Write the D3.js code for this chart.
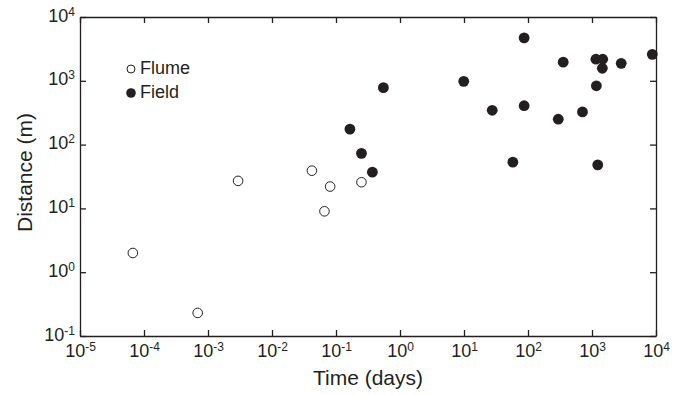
<!DOCTYPE html>
<html>
<head>
<meta charset="utf-8">
<script src="https://cdn.jsdelivr.net/npm/d3@7"></script>
<style>
  body { margin: 0; background: #fff; }
  svg { display: block; font-family: "Liberation Sans", Arial, Helvetica, sans-serif; }
  .axis path, .axis line { stroke: #231f20; stroke-width: 1.3; }
  .axis text { fill: #231f20; }
</style>
</head>
<body>
<script>
// tick exponents (labels are 10^n)
var xTickExp = [-5, -4, -3, -2, -1, 0, 1, 2, 3, 4];
var yTickExp = [-1, 0, 1, 2, 3, 4];

// Flume (open circles)
var flumeTime = [6.7e-5, 6.9e-4, 2.95e-3, 0.042, 0.066, 0.081, 0.25];
var flumeDist = [2.0, 0.23, 27, 39, 9.0, 22, 25.7];

// Field (filled circles)
var fieldTime = [0.165, 0.25, 0.37, 0.55, 9.9, 27.6, 58, 87, 87, 297, 355, 710, 1150, 1170, 1230, 1450, 1470, 2860, 8750];
var fieldDist = [175, 73, 37, 780, 980, 345, 53, 4700, 407, 250, 1960, 325, 2180, 835, 48, 1570, 2180, 1880, 2600];

var seriesNames = ["Flume", "Field"];

var W = 684, H = 395;
var margin = {top: 17, right: 28, bottom: 59, left: 80},
    width = W - margin.left - margin.right,   // 576
    height = H - margin.top - margin.bottom;  // 319

var ink = "#231f20";

var svg = d3.select("body").append("svg")
    .attr("width", W)
    .attr("height", H)
  .append("g")
    .attr("transform", "translate(" + margin.left + "," + margin.top + ")");

var x = d3.scaleLog().domain([1e-5, 1e4]).range([0, width]);
var y = d3.scaleLog().domain([1e-1, 1e4]).range([height, 0]);

var xTicks = xTickExp.map(function(e) { return Math.pow(10, e); });
var yTicks = yTickExp.map(function(e) { return Math.pow(10, e); });

// write 10^n as "10" + raised exponent
function powLabel(sel, ticks, exps) {
  sel.each(function(d) {
    var i = ticks.indexOf(d);
    var t = d3.select(this).text(null);
    t.append("tspan").text("10");
    t.append("tspan").attr("dy", -6).style("font-size", "12px").text(exps[i]);
  });
}

// bottom axis
var gx = svg.append("g")
    .attr("class", "axis")
    .attr("transform", "translate(0," + height + ")")
    .call(d3.axisBottom(x).tickValues(xTicks).tickSizeInner(-6).tickSizeOuter(0).tickFormat(""));
gx.selectAll(".tick text")
    .attr("y", 21).attr("dy", 0)
    .style("font-size", "18px")
    .call(powLabel, xTicks, xTickExp);

// left axis
var gy = svg.append("g")
    .attr("class", "axis")
    .call(d3.axisLeft(y).tickValues(yTicks).tickSizeInner(-6).tickSizeOuter(0).tickFormat(""));
gy.selectAll(".tick text")
    .attr("x", -5).attr("dy", 4)
    .attr("text-anchor", "end")
    .style("font-size", "18px")
    .call(powLabel, yTicks, yTickExp);

// top and right frame with inward ticks
svg.append("g")
    .attr("class", "axis")
    .call(d3.axisTop(x).tickValues(xTicks).tickSizeInner(-6).tickSizeOuter(0).tickFormat(""));
svg.append("g")
    .attr("class", "axis")
    .attr("transform", "translate(" + width + ",0)")
    .call(d3.axisRight(y).tickValues(yTicks).tickSizeInner(-6).tickSizeOuter(0).tickFormat(""));

// axis titles
svg.append("text")
    .attr("x", width / 2)
    .attr("y", height + 49)
    .attr("text-anchor", "middle")
    .style("font-size", "21px")
    .attr("fill", ink)
    .text("Time (days)");

svg.append("text")
    .attr("transform", "translate(" + (32 - margin.left) + "," + (height / 2 - 4) + ") rotate(-90)")
    .attr("text-anchor", "middle")
    .style("font-size", "21px")
    .attr("fill", ink)
    .text("Distance (m)");

// points
var flume = flumeTime.map(function(t, i) { return {t: t, d: flumeDist[i]}; });
var field = fieldTime.map(function(t, i) { return {t: t, d: fieldDist[i]}; });

svg.selectAll(".flume")
    .data(flume)
  .enter().append("circle")
    .attr("class", "flume")
    .attr("cx", function(d) { return x(d.t); })
    .attr("cy", function(d) { return y(d.d); })
    .attr("r", 4.8)
    .attr("fill", "#fff")
    .attr("stroke", ink)
    .attr("stroke-width", 1);

svg.selectAll(".field")
    .data(field)
  .enter().append("circle")
    .attr("class", "field")
    .attr("cx", function(d) { return x(d.t); })
    .attr("cy", function(d) { return y(d.d); })
    .attr("r", 5.4)
    .attr("fill", ink);

// legend
var legend = svg.append("g").attr("transform", "translate(51,52)");
legend.append("circle")
    .attr("cx", 0).attr("cy", 0).attr("r", 4)
    .attr("fill", "#fff").attr("stroke", ink).attr("stroke-width", 1);
legend.append("circle")
    .attr("cx", 0).attr("cy", 24).attr("r", 4.8)
    .attr("fill", ink);
legend.selectAll("text")
    .data(seriesNames)
  .enter().append("text")
    .attr("x", 9)
    .attr("y", function(d, i) { return i * 24 + 5; })
    .style("font-size", "18px")
    .attr("fill", ink)
    .text(function(d) { return d; });
</script>
</body>
</html>
